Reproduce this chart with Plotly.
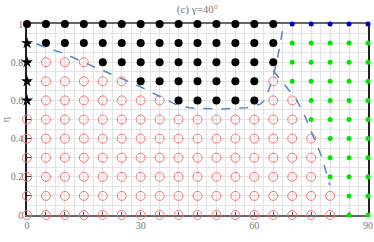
import plotly.graph_objects as go

# grid of parameters
gamma_vals = [0, 5, 10, 15, 20, 25, 30, 35, 40, 45, 50, 55, 60, 65, 70, 75, 80, 85, 90]
eta_vals = [1.0, 0.9, 0.8, 0.7, 0.6, 0.5, 0.4, 0.3, 0.2, 0.1, 0.0]
# K = black filled, R = red open, G = green, B = blue, S = star
row_classes = [
    "KKKKKKKKKKKKKKBBBBB",
    "SKKKKKKKKKKKKKGGGGG",
    "SRRRKKKKKKKKKKGGGGG",
    "SRRRRRKKKKKKKRGGGGG",
    "SRRRRRRRKKKKKRRGGGG",
    "RRRRRRRRRRRRRRRGGGG",
    "RRRRRRRRRRRRRRRRGGG",
    "RRRRRRRRRRRRRRRRGGG",
    "RRRRRRRRRRRRRRRRGGG",
    "RRRRRRRRRRRRRRRRRGG",
    "RRRRRRRRRRRRRRRRRGG",
]

# boundary curves (dashed)
b1_x = [2.5, 5.3, 10.1, 15.0, 20.2, 25.1, 29.9, 35.2, 37.8, 40.0, 43.0, 45.0, 51.8, 58.0, 61.5, 62.8, 64.1, 65.2, 66.0, 66.9, 67.6]
b1_y = [0.895, 0.876, 0.843, 0.799, 0.756, 0.715, 0.672, 0.619, 0.593, 0.572, 0.561, 0.558, 0.555, 0.562, 0.58, 0.602, 0.672, 0.742, 0.812, 0.899, 0.998]
b2_x = [65.0, 68.1, 71.2, 73.4, 75.5, 77.8, 79.9]
b2_y = [0.755, 0.681, 0.602, 0.515, 0.410, 0.305, 0.157]

styles = {
    "R": dict(symbol="circle-open", size=9, color="#ff7070", line=dict(width=1, color="#ff7070")),
    "K": dict(symbol="circle", size=8, color="black"),
    "G": dict(symbol="circle", size=5, color="#00e600"),
    "B": dict(symbol="circle", size=5, color="#0000cc"),
    "S": dict(symbol="star", size=9, color="black"),
}

fig = go.Figure()
for cls in ["R", "K", "G", "B", "S"]:
    xs, ys = [], []
    for eta, row in zip(eta_vals, row_classes):
        for g, c in zip(gamma_vals, row):
            if c == cls:
                xs.append(g)
                ys.append(eta)
    fig.add_trace(go.Scatter(x=xs, y=ys, mode="markers", marker=styles[cls],
                             cliponaxis=False, showlegend=False, hoverinfo="skip"))

for bx, by in [(b1_x, b1_y), (b2_x, b2_y)]:
    fig.add_trace(go.Scatter(x=bx, y=by, mode="lines",
                             line=dict(color="#5b84c4", width=1.5, dash="dash"),
                             showlegend=False, hoverinfo="skip"))

serif = "Liberation Serif, Times New Roman, serif"
font = dict(family=serif, size=10, color="#777")
x_ticks = gamma_vals
x_text = [str(v) if v % 30 == 0 else "" for v in gamma_vals]
y_ticks = [i / 10 for i in range(11)]
y_text = ["0", "", "0.2", "", "0.4", "", "0.6", "", "0.8", "", "1"]

fig.update_layout(
    width=374, height=242,
    margin=dict(l=27, r=6, t=24, b=27),
    paper_bgcolor="white", plot_bgcolor="white",
    font=font,
    title=dict(text="(c) γ=40°", x=0.5, xref="paper", xanchor="center", y=0.963, yref="container",
               yanchor="middle", font=dict(family=serif, size=11, color="#777")),
    xaxis=dict(range=[0, 90], tickvals=x_ticks, ticktext=x_text, ticks="inside", ticklen=3,
               tickcolor="#555", showline=True, linecolor="#666", linewidth=1.5, mirror=True,
               showgrid=True, gridcolor="#e3e3e3", gridwidth=1, zeroline=False, automargin=False,
               layer="below traces",
               minor=dict(tickvals=[2.5 + 5 * i for i in range(18)], showgrid=True,
                          gridcolor="#e3e3e3", ticks=""),
               tickfont=font),
    yaxis=dict(range=[0, 1], tickvals=y_ticks, ticktext=y_text, ticks="inside", ticklen=4,
               tickcolor="#444", showline=True, linecolor="#222", linewidth=1.5, mirror=True,
               showgrid=True, gridcolor="#e3e3e3", gridwidth=1, zeroline=False, automargin=False,
               layer="below traces",
               minor=dict(tickvals=[0.05 + 0.1 * i for i in range(10)], showgrid=True,
                          gridcolor="#e3e3e3", ticks=""),
               tickfont=font),
    annotations=[dict(text="η", xref="paper", yref="paper", x=-0.062, y=0.5, showarrow=False,
                      textangle=-90, xanchor="center", yanchor="middle",
                      font=dict(family=serif, size=10, color="#777"))],
)

fig.write_html("out.html", config={"displayModeBar": False},
               post_script="document.body.style.margin='0';document.body.style.overflow='hidden';")
